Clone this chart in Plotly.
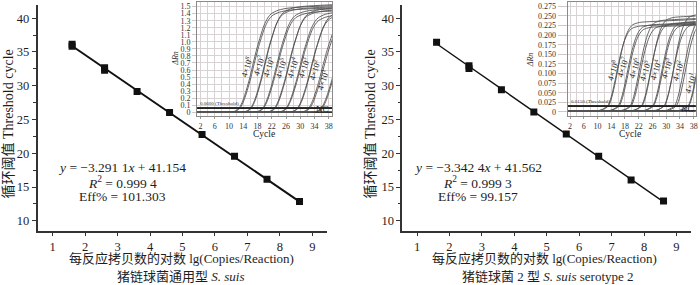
import plotly.graph_objects as go

# ---------------- data ----------------
# standard curve, left panel (S. suis, general)
left_pt_x = [1.602, 1.602, 2.602, 2.602, 3.602, 4.602, 5.602, 6.602, 7.602, 8.602]
left_pt_y = [35.85, 36.15, 32.30, 32.65, 29.15, 26.05, 22.80, 19.55, 16.15, 12.85]
left_fit_x = [1.602, 8.602]
left_slope, left_icpt = -3.2911, 41.154

# standard curve, right panel (S. suis serotype 2)
right_pt_x = [1.602, 2.602, 2.602, 3.602, 4.602, 5.602, 6.602, 7.602, 8.602]
right_pt_y = [36.45, 32.55, 32.95, 29.40, 26.10, 22.85, 19.55, 16.05, 12.95]
right_fit_x = [1.602, 8.602]
right_slope, right_icpt = -3.3424, 41.562

# amplification plot insets: curve profile read from the 4x10^8 curve
# (cycles relative to threshold crossing, delta Rn)
left_prof_rel = [-40, -3, -2, -1, 0, 1, 2, 3, 4, 5, 6, 7, 8, 9, 11, 14, 30]
left_prof_rn = [0.0, 0.0, 0.005, 0.02, 0.06, 0.16, 0.31, 0.49, 0.70, 0.90, 1.07,
                1.22, 1.32, 1.38, 1.43, 1.46, 1.50]
left_prof_ref = 1.46
left_ct_a = [12.85, 16.10, 19.50, 22.80, 26.05, 29.20, 32.35, 35.85]
left_ct_b = [13.10, 16.30, 19.70, 23.00, 26.20, 29.40, 32.65, 36.15]
left_plat_a = [1.48, 1.47, 1.45, 1.44, 1.42, 1.40, 1.38, 1.36]
left_plat_b = [1.45, 1.50, 1.42, 1.47, 1.38, 1.44, 1.35, 1.40]
left_threshold = 0.06
left_nc = 0.0

right_prof_rel = [-40, -3, -2, -1, 0, 1, 2, 3, 4, 5, 6, 7, 9, 12, 30]
right_prof_rn = [0.003, 0.003, 0.005, 0.009, 0.015, 0.038, 0.075, 0.118, 0.158,
                 0.188, 0.207, 0.217, 0.223, 0.225, 0.232]
right_prof_ref = 0.225
right_ct_a = [12.95, 16.05, 19.55, 22.80, 26.10, 29.40, 32.50, 36.45]
right_ct_b = [13.20, 16.30, 19.80, 23.05, 26.30, 29.60, 33.00, 36.70]
right_plat_a = [0.225, 0.228, 0.240, 0.232, 0.235, 0.230, 0.245, 0.250]
right_plat_b = [0.235, 0.222, 0.226, 0.248, 0.228, 0.255, 0.240, 0.265]
right_threshold = 0.015
right_nc = 0.003

conc_exp = [8, 7, 6, 5, 4, 3, 2, 1]
left_lab_x = [15.0, 18.3, 21.2, 24.8, 28.0, 31.1, 33.9, 36.5]
left_lab_y = [0.65, 0.67, 0.65, 0.63, 0.63, 0.63, 0.60, 0.46]
right_lab_x = [14.4, 17.4, 20.7, 23.8, 26.8, 30.1, 33.4, 37.0]
right_lab_y = [0.109, 0.118, 0.114, 0.109, 0.109, 0.114, 0.109, 0.075]

left_inset_yticks = [0, 0.1, 0.2, 0.3, 0.4, 0.5, 0.6, 0.7, 0.8, 0.9, 1.0, 1.1, 1.2, 1.3, 1.4, 1.5]
left_inset_ylabels = ["0", "0.1", "0.2", "0.3", "0.4", "0.5", "0.6", "0.7", "0.8", "0.9",
                      "1.0", "1.1", "1.2", "1.3", "1.4", "1.5"]
right_inset_yticks = [0, 0.025, 0.05, 0.075, 0.1, 0.125, 0.15, 0.175, 0.2, 0.225, 0.25, 0.275]
right_inset_ylabels = ["0", "0.025", "0.050", "0.075", "0.100", "0.125", "0.150", "0.175",
                       "0.200", "0.225", "0.250", "0.275"]
inset_xticks = [2, 6, 10, 14, 18, 22, 26, 30, 34, 38]

main_xticks = [1, 2, 3, 4, 5, 6, 7, 8, 9]
main_yticks = [10, 15, 20, 25, 30, 35, 40]

SERIF = "Liberation Serif, Times New Roman, Noto Sans CJK SC, serif"
INK = "#1e1e1e"

fig = go.Figure()

# ---------------- main standard curves ----------------
for xa, ya, px, py, fx_, slope, icpt, lw in [
    ("x", "y", left_pt_x, left_pt_y, left_fit_x, left_slope, left_icpt, 2.0),
    ("x2", "y2", right_pt_x, right_pt_y, right_fit_x, right_slope, right_icpt, 1.4),
]:
    fig.add_trace(go.Scatter(x=fx_, y=[slope * v + icpt for v in fx_], mode="lines",
                             line=dict(color="#111", width=lw), xaxis=xa, yaxis=ya,
                             showlegend=False, hoverinfo="skip"))
    fig.add_trace(go.Scatter(x=px, y=py, mode="markers",
                             marker=dict(symbol="square", size=7, color="#111"),
                             xaxis=xa, yaxis=ya, showlegend=False))

# ---------------- inset amplification curves ----------------
def add_amp(xa, ya, rel, rn, ref, cts, plats, thr, nc):
    fig.add_trace(go.Scatter(x=[0, 41], y=[nc, nc], mode="lines",
                             line=dict(color="#333", width=1.6), xaxis=xa, yaxis=ya,
                             showlegend=False, hoverinfo="skip"))
    for ct, pl in zip(cts, plats):
        fig.add_trace(go.Scatter(x=[ct + r for r in rel], y=[v * pl / ref for v in rn],
                                 mode="lines", line=dict(color="#555", width=0.9,
                                                         shape="spline", smoothing=0.8),
                                 xaxis=xa, yaxis=ya, showlegend=False, hoverinfo="skip"))
    fig.add_trace(go.Scatter(x=[0, 41], y=[thr, thr], mode="lines",
                             line=dict(color="#222", width=1.8), xaxis=xa, yaxis=ya,
                             showlegend=False, hoverinfo="skip"))

add_amp("x3", "y3", left_prof_rel, left_prof_rn, left_prof_ref, left_ct_a, left_plat_a,
        left_threshold, left_nc)
add_amp("x3", "y3", left_prof_rel, left_prof_rn, left_prof_ref, left_ct_b, left_plat_b,
        left_threshold, left_nc)
add_amp("x4", "y4", right_prof_rel, right_prof_rn, right_prof_ref, right_ct_a, right_plat_a,
        right_threshold, right_nc)
add_amp("x4", "y4", right_prof_rel, right_prof_rn, right_prof_ref, right_ct_b, right_plat_b,
        right_threshold, right_nc)

# ---------------- axes ----------------
def main_x(domain):
    return dict(domain=domain, range=[0.54, 9.45], tickvals=main_xticks,
                ticks="outside", ticklen=3, tickwidth=1, tickcolor="#333",
                showline=True, linecolor="#333", linewidth=1.5, showgrid=False,
                zeroline=False, tickfont=dict(family=SERIF, size=12.5, color=INK))

def main_y(domain):
    return dict(domain=domain, range=[8.52, 41.95], tickvals=main_yticks,
                ticks="outside", ticklen=4, tickwidth=1, tickcolor="#333",
                minor=dict(dtick=2.5, tick0=0, ticks="outside", ticklen=2.5,
                           tickcolor="#333", showgrid=False),
                showline=True, linecolor="#333", linewidth=1.5, showgrid=False,
                zeroline=False, tickfont=dict(family=SERIF, size=12.5, color=INK))

def inset_x(domain, rng):
    return dict(domain=domain, range=rng, tickvals=inset_xticks, ticks="outside",
                ticklen=2, tickcolor="#999", showgrid=True, gridcolor="#d9d2d2",
                gridwidth=0.6, minor=dict(dtick=2, tick0=0, showgrid=True,
                                           gridcolor="#d9d2d2", gridwidth=0.6),
                showline=True, mirror=True, linecolor="#8a8a8a", linewidth=1,
                zeroline=False, tickfont=dict(family=SERIF, size=8, color="#333"))

def inset_y(domain, rng, tv, tt, tl):
    return dict(domain=domain, range=rng, tickvals=tv, ticktext=tt, ticks="outside",
                ticklen=tl, tickcolor="#d0c8c8", showgrid=True, gridcolor="#d9d2d2",
                gridwidth=0.6, showline=True, mirror=True, linecolor="#8a8a8a",
                linewidth=1, zeroline=False,
                tickfont=dict(family=SERIF, size=8, color="#333"))

W, H = 700, 285
fx = lambda px: px / W
fy = lambda py: 1 - py / H

xa1 = main_x([fx(37.7), fx(328)]); xa1["anchor"] = "y"
ya1 = main_y([fy(231.7), fy(5)]); ya1["anchor"] = "x"
xa2 = main_x([fx(403.3), fx(693)]); xa2["anchor"] = "y2"
ya2 = main_y([fy(231.7), fy(5)]); ya2["anchor"] = "x2"
xa3 = inset_x([fx(197.7), fx(333.3)], [1.05, 39.0]); xa3["anchor"] = "y3"
ya3 = inset_y([fy(116.7), fy(1.7)], [-0.057, 1.57], left_inset_yticks, left_inset_ylabels, 4)
ya3["anchor"] = "x3"
xa4 = inset_x([fx(569.3), fx(697.7)], [1.3, 38.6]); xa4["anchor"] = "y4"
ya4 = inset_y([fy(116.7), fy(1.7)], [-0.0114, 0.287], right_inset_yticks,
              right_inset_ylabels, 9)
ya4["anchor"] = "x4"

fig.update_layout(xaxis=xa1, yaxis=ya1, xaxis2=xa2, yaxis2=ya2,
                  xaxis3=xa3, yaxis3=ya3, xaxis4=xa4, yaxis4=ya4)

# ---------------- text ----------------
ann = []

def t(x, y, text, size, angle=0, xref="paper", yref="paper", xanchor="center",
      yanchor="middle", color=INK):
    ann.append(dict(x=x, y=y, xref=xref, yref=yref, text=text, showarrow=False,
                    textangle=angle, xanchor=xanchor, yanchor=yanchor,
                    font=dict(family=SERIF, size=size, color=color)))

# axis titles and captions
t(fx(182), fy(259), "每反应拷贝数的对数 lg(Copies/Reaction)", 13)
t(fx(182), fy(277.5), "猪链球菌通用型 <i>S. suis</i>", 13)
t(fx(546), fy(259), "每反应拷贝数的对数 lg(Copies/Reaction)", 13)
t(fx(550), fy(277.5), "猪链球菌 2 型 <i>S. suis</i> serotype 2", 13)
t(fx(9), fy(124), "循环阈值 Threshold cycle", 14, angle=-90)
t(fx(372), fy(124), "循环阈值 Threshold cycle", 14, angle=-90)

# equations
t(fx(122.5), fy(168.3), "<i>y</i> = −3.291 1<i>x</i> + 41.154", 13.5)
t(fx(122.5), fy(182.7), "<i>R</i><sup>2</sup> = 0.999 4", 13.5)
t(fx(122.5), fy(197.3), "Eff% = 101.303", 13.5)
t(fx(479), fy(168.3), "<i>y</i> = −3.342 4<i>x</i> + 41.562", 13.5)
t(fx(479), fy(182.7), "<i>R</i><sup>2</sup> = 0.999 3", 13.5)
t(fx(479), fy(197.3), "Eff% = 99.157", 13.5)

# inset titles
t(fx(176.5), fy(58), "<i>ΔRn</i>", 8, angle=-90, color="#333")
t(fx(532), fy(60), "<i>ΔRn</i>", 8, angle=-90, color="#333")
t(fx(265), fy(134), "Cycle", 9.5, color="#222")
t(fx(632), fy(134), "Cycle", 9.5, color="#222")

# threshold captions and NC
t(1.4, left_threshold, "0.0600 (Threshold)", 5, xref="x3", yref="y3", xanchor="left",
  yanchor="bottom", color="#333")
t(1.6, right_threshold, "0.0150 (Threshold)", 5, xref="x4", yref="y4", xanchor="left",
  yanchor="bottom", color="#333")
t(36.3, -0.057, "NC", 9, xref="x3", yref="y3", yanchor="bottom", color="#222")
t(36.3, -0.0114, "NC", 9, xref="x4", yref="y4", yanchor="bottom", color="#222")

# concentration labels
for e, lx, ly in zip(conc_exp, left_lab_x, left_lab_y):
    t(lx, ly, "4×10<sup>%d</sup>" % e, 8.5, angle=-72, xref="x3", yref="y3", color="#222")
for e, lx, ly in zip(conc_exp, right_lab_x, right_lab_y):
    t(lx, ly, "4×10<sup>%d</sup>" % e, 8.5, angle=-72, xref="x4", yref="y4", color="#222")

fig.update_layout(width=W, height=H, margin=dict(l=0, r=0, t=0, b=0),
                  paper_bgcolor="white", plot_bgcolor="white", annotations=ann,
                  showlegend=False, font=dict(family=SERIF, color=INK))

fig.write_html("out.html", config={"displayModeBar": False},
               post_script="document.body.style.margin='0';"
                           "document.body.style.overflow='hidden';")
